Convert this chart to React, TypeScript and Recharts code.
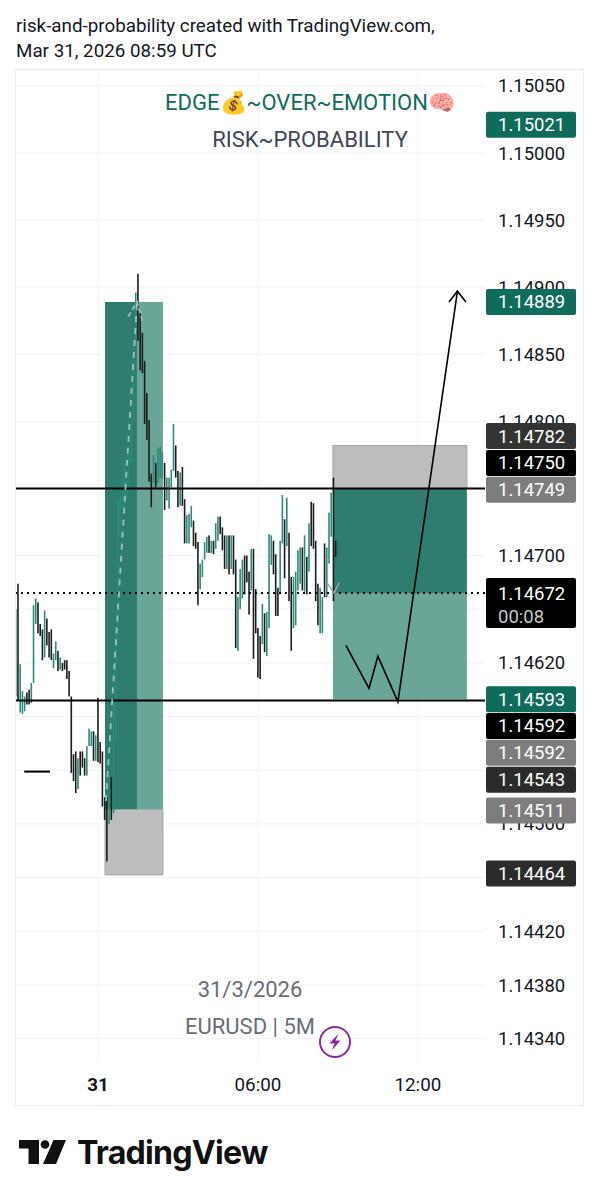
import { Bar, CartesianGrid, ComposedChart, Line, ReferenceArea, ReferenceDot, ReferenceLine, XAxis, YAxis } from "recharts";

const FONT = "Roboto, sans-serif";
const GREEN = "#0f6b5b";
const TEAL = "#2b8a7a";
const BLACK = "#1c1c1c";

// 5 minute bars, minutes from 31 Mar 00:00
const barTimes = [
  -185, -180, -175, -170, -165, -160, -155, -150, -145, -140, -135, -130, -125, -120, -115, -110, -105, -100, -95, -90, -85, -80, -75, -70,
  -65, -60, -55, -50, -45, -40, -35, -30, -25, -20, -15, -10, -5, 0, 5, 10, 15, 20, 25, 30, 35, 40, 45, 50, 55, 60, 65, 70, 75, 80, 85, 90,
  95, 100, 105, 110, 115, 120, 125, 130, 135, 140, 145, 150, 155, 160, 165, 170, 175, 180, 185, 190, 195, 200, 205, 210, 215, 220, 225, 230,
  235, 240, 245, 250, 255, 260, 265, 270, 275, 280, 285, 290, 295, 300, 305, 310, 315, 320, 325, 330, 335, 340, 345, 350, 355, 360, 365, 370,
  375, 380, 385, 390, 395, 400, 405, 410, 415, 420, 425, 430, 435, 440, 445, 450, 455, 460, 465, 470, 475, 480, 485, 490, 495, 500, 505, 510,
  515, 520, 525, 530, 535,
];
const barHighs = [
  1.1466, 1.14679, 1.14619, 1.14599, 1.14595, 1.14598, 1.146, 1.14605, 1.14663, 1.14668, 1.14665, 1.14649, 1.14645, 1.14659, 1.14653, 1.14643, 1.14645, 1.14627, 1.14636, 1.14629, 1.14624, 1.1462, 1.14622, 1.14622,
  1.14614, 1.14595, 1.14552, 1.14554, 1.14549, 1.14554, 1.14554, 1.14549, 1.14558, 1.14571, 1.14569, 1.14569, 1.14566, 1.14594, 1.14561, 1.14554, 1.1452, 1.1452, 1.14537, 1.14535, 1.14592, 1.14644, 1.14743, 1.14745, 1.14763, 1.14769, 1.14758, 1.14776, 1.14801, 1.1486, 1.14896, 1.1491,
  1.14881, 1.14866, 1.14845, 1.14821, 1.14801, 1.14761, 1.14775, 1.14769, 1.1478, 1.14781, 1.14777, 1.14769, 1.14758, 1.14758, 1.14764, 1.14798, 1.14782, 1.14763, 1.14762, 1.14766, 1.14742, 1.1473, 1.14731, 1.14737, 1.14726, 1.14717, 1.1471, 1.14694,
  1.14697, 1.1471, 1.14714, 1.14715, 1.14711, 1.14711, 1.14724, 1.14729, 1.14729, 1.14721, 1.14715, 1.14715, 1.14715, 1.14715, 1.14715, 1.14697, 1.14669, 1.1469, 1.14697, 1.147, 1.147, 1.14688, 1.14705, 1.14705, 1.14675, 1.14646, 1.1464, 1.14664,
  1.14657, 1.14658, 1.14716, 1.14715, 1.14711, 1.14701, 1.14676, 1.14711, 1.14745, 1.14727, 1.14743, 1.14717, 1.14684, 1.14684, 1.14688, 1.14704, 1.14706, 1.14706, 1.14715, 1.14699, 1.14724, 1.1474, 1.14739, 1.14711, 1.14679, 1.14676, 1.14669, 1.14709,
  1.14706, 1.14732, 1.14747, 1.14758, 1.14711,
];
const barLows = [
  1.14595, 1.14592, 1.14583, 1.14582, 1.14584, 1.14589, 1.14589, 1.1459, 1.14605, 1.14649, 1.14642, 1.1464, 1.14622, 1.14624, 1.14633, 1.14624, 1.14622, 1.14616, 1.14622, 1.14614, 1.14615, 1.14614, 1.14615, 1.14608,
  1.14595, 1.14538, 1.14532, 1.14523, 1.14526, 1.14536, 1.14542, 1.14536, 1.14536, 1.14558, 1.14558, 1.14547, 1.14547, 1.14546, 1.14545, 1.14513, 1.14503, 1.14472, 1.145, 1.14503, 1.14508, 1.14562, 1.14634, 1.14713, 1.14734, 1.14734, 1.14741, 1.14748, 1.14769, 1.14801, 1.1486, 1.1486,
  1.14838, 1.14836, 1.14798, 1.14786, 1.14755, 1.14736, 1.14754, 1.14751, 1.14754, 1.14758, 1.14757, 1.14734, 1.14741, 1.14735, 1.14751, 1.14763, 1.14758, 1.14736, 1.14737, 1.14737, 1.14709, 1.14709, 1.14709, 1.14721, 1.14707, 1.14705, 1.14663, 1.14675,
  1.14684, 1.14697, 1.14702, 1.14702, 1.14702, 1.14701, 1.14705, 1.14711, 1.14716, 1.14704, 1.1469, 1.1469, 1.14686, 1.1469, 1.14686, 1.14631, 1.14629, 1.1466, 1.14668, 1.14671, 1.1468, 1.14656, 1.14674, 1.14623, 1.14642, 1.14609, 1.14608, 1.14634,
  1.14628, 1.14625, 1.14646, 1.14693, 1.14686, 1.14655, 1.14655, 1.14671, 1.14709, 1.14683, 1.14707, 1.14666, 1.14629, 1.14646, 1.14648, 1.14674, 1.14679, 1.14674, 1.14673, 1.14671, 1.14688, 1.14707, 1.14705, 1.14666, 1.14648, 1.14642, 1.14642, 1.14669,
  1.14669, 1.14694, 1.14714, 1.14666, 1.14699,
];
const barColors = [
  "t", "b", "t", "t", "t", "b", "b", "t", "t", "t", "b", "b", "b", "t", "b", "b", "b", "t", "t", "b", "t", "b", "b", "b",
  "b", "b", "b", "b", "t", "b", "b", "b", "t", "t", "t", "b", "t", "b", "b", "b", "b", "b", "t", "b", "t", "t", "t", "t", "t", "t", "t", "t", "t", "t", "t", "b",
  "b", "b", "b", "b", "b", "b", "t", "b", "t", "t", "t", "b", "t", "t", "t", "t", "b", "b", "t", "b", "b", "t", "t", "t", "b", "b", "b", "t",
  "t", "t", "t", "b", "t", "b", "t", "t", "b", "b", "b", "t", "b", "t", "b", "b", "t", "t", "t", "b", "b", "b", "t", "b", "b", "b", "b", "t",
  "b", "t", "t", "t", "b", "b", "b", "t", "t", "b", "t", "b", "b", "t", "t", "t", "t", "b", "t", "b", "t", "b", "b", "b", "b", "t", "t", "b",
  "t", "t", "t", "b", "b",
];

const priceTicks = [
  1.1434, 1.1438, 1.1442, 1.1446, 1.145, 1.1454, 1.1458, 1.1462, 1.1466, 1.147, 1.1475, 1.148, 1.1485, 1.149, 1.1495, 1.15, 1.1505,
];
// these levels keep their grid line but the tags sit on their labels
const coveredTicks = [1.1446, 1.1454, 1.1458, 1.1466, 1.1475];
const timeTicks = [0, 360, 720];
const timeLabels = ["31", "06:00", "12:00"];

// hand drawn path and its arrow head
const pathTimes = [558, 610, 630, 675, 809];
const pathPrices = [1.14633, 1.14601, 1.14625, 1.14591, 1.14897];
const headTimes = [790, 809, 828];
const headPrices = [1.14889, 1.14897, 1.14889];

// dashed position path of the finished trade
const dashTimes = [18, 88];
const dashPrices = [1.14517, 1.14889];
const dashHeadTimes = [68, 88, 100];
const dashHeadPrices = [1.14878, 1.14889, 1.14875];
const liveHeadTimes = [515, 531, 543];
const liveHeadPrices = [1.1468, 1.14672, 1.1468];

const tagText = ["1.15021", "1.14889", "1.14782", "1.14750", "1.14749", "1.14593", "1.14592", "1.14592", "1.14543", "1.14511", "1.14464"];
const tagLevels = [1.15021, 1.14889, 1.14789, 1.14769, 1.14749, 1.14593, 1.14573, 1.14553, 1.14533, 1.1451, 1.14463];
const tagFills = [GREEN, GREEN, "#333333", "#000000", "#7d7d7d", GREEN, "#000000", "#7d7d7d", "#2b2b2b", "#7d7d7d", "#2b2b2b"];

const candles = barTimes.map((t, i) => ({ t, range: [barLows[i], barHighs[i]], color: barColors[i] === "t" ? TEAL : BLACK }));
const toPoints = (ts: number[], ps: number[]) => ts.map((t, i) => ({ t, price: ps[i] }));

function CandleBar({ x, y, width, height, payload }: any) {
  return <rect x={x + width / 2 - 0.8} y={y} width={1.6} height={Math.abs(height)} fill={payload.color} />;
}

function PriceTag({ cx, cy, text, fill }: any) {
  return (
    <g>
      <rect x={cx + 1} y={cy - 13} width={90} height={26} rx={2} fill={fill} />
      <text x={cx + 13} y={cy + 6.5} fontFamily={FONT} fontSize={18.5} fill="#ffffff">
        {text}
      </text>
    </g>
  );
}

function LastPriceTag({ cx, cy }: any) {
  return (
    <g>
      <rect x={cx + 1} y={cy - 15} width={90} height={50} rx={2} fill="#000000" />
      <text x={cx + 13} y={cy + 6.5} fontFamily={FONT} fontSize={18.5} fill="#ffffff">
        1.14672
      </text>
      <text x={cx + 13} y={cy + 29.5} fontFamily={FONT} fontSize={18.5} fill="#c8c8c8">
        00:08
      </text>
    </g>
  );
}

function TimeTick({ x, y, payload, index }: any) {
  return (
    <text x={x} y={y} dy={21} textAnchor="middle" fontFamily={FONT} fontSize={18.8} fontWeight={index === 0 ? 700 : 400} fill="#131722">
      {timeLabels[timeTicks.indexOf(payload.value)]}
    </text>
  );
}

const overlay = (x: number, y: number, size: number, color: string, text: string) => (
  <div style={{ position: "absolute", left: x - 200, top: y, width: 400, textAlign: "center", fontFamily: FONT, fontSize: size, lineHeight: "24px", color }}>
    {text}
  </div>
);

export default function App() {
  return (
    <div style={{ position: "absolute", left: 0, top: 0, width: 598, height: 1200, background: "#fff", overflow: "hidden" }}>
      <div style={{ position: "absolute", left: 16, top: 13.5, fontFamily: FONT, fontSize: 18.8, lineHeight: "25px", color: "#131722" }}>
        risk-and-probability created with TradingView.com,
        <br />
        Mar 31, 2026 08:59 UTC
      </div>
      <div style={{ position: "absolute", left: 15, top: 69, width: 567, height: 1035, border: "1px solid #eceef2" }} />
      <div style={{ position: "absolute", left: 0, top: 0 }}>
        <ComposedChart width={598} height={1200} data={candles} margin={{ top: 70, left: 16, right: 15, bottom: 95 }}>
          <CartesianGrid stroke="#f0f1f4" strokeWidth={1} horizontalValues={priceTicks} verticalValues={timeTicks} />
          <XAxis
            dataKey="t"
            type="number"
            domain={[-184.5, 871]}
            ticks={timeTicks}
            interval={0}
            height={43}
            axisLine={false}
            tickLine={false}
            tick={<TimeTick />}
            allowDataOverflow
          />
          <YAxis
            type="number"
            orientation="right"
            domain={[1.143226, 1.150618]}
            ticks={priceTicks}
            interval={0}
            width={98}
            axisLine={false}
            tickLine={false}
            tickMargin={7}
            tickFormatter={(v: number) => (coveredTicks.includes(v) ? "" : v.toFixed(5))}
            tick={{ fontFamily: FONT, fontSize: 18.5, fill: "#131722" }}
            allowDataOverflow
          />

          <ReferenceArea x1={15.75} x2={146.25} y1={1.14462} y2={1.14511} fill="#bdbdbd" fillOpacity={1} stroke="#a6a6a6" />
          <ReferenceArea x1={15.75} x2={87.75} y1={1.14511} y2={1.14889} fill="#2f7d6e" fillOpacity={1} />
          <ReferenceArea x1={87.75} x2={146.25} y1={1.14511} y2={1.14889} fill="#6aa698" fillOpacity={1} />
          <ReferenceArea x1={528.75} x2={830.25} y1={1.1475} y2={1.14782} fill="#bdbdbd" fillOpacity={1} stroke="#a6a6a6" />
          <ReferenceArea x1={528.75} x2={830.25} y1={1.14672} y2={1.1475} fill="#2f7d6e" fillOpacity={1} />
          <ReferenceArea x1={528.75} x2={830.25} y1={1.14593} y2={1.14672} fill="#6aa698" fillOpacity={1} />

          <ReferenceLine y={1.1475} stroke="#000" strokeWidth={2} />
          <ReferenceLine y={1.14592} stroke="#000" strokeWidth={2} />
          <ReferenceLine y={1.14672} stroke="#000" strokeWidth={2} strokeDasharray="2 4" />
          <ReferenceLine segment={[{ x: -166, y: 1.14539 }, { x: -108, y: 1.14539 }]} stroke="#000" strokeWidth={2} />

          <Bar dataKey="range" barSize={2} isAnimationActive={false} shape={<CandleBar />} />

          <Line data={toPoints(dashTimes, dashPrices)} dataKey="price" stroke="#9ec2b9" strokeWidth={1.8} strokeDasharray="6 6" dot={false} isAnimationActive={false} />
          <Line data={toPoints(dashHeadTimes, dashHeadPrices)} dataKey="price" stroke="#9ec2b9" strokeWidth={1.8} strokeDasharray="5 3" dot={false} isAnimationActive={false} />
          <Line data={toPoints(liveHeadTimes, liveHeadPrices)} dataKey="price" stroke="#9aa8a4" strokeWidth={1.5} dot={false} isAnimationActive={false} />
          <Line data={toPoints(pathTimes, pathPrices)} dataKey="price" stroke="#000" strokeWidth={1.6} dot={false} isAnimationActive={false} />
          <Line data={toPoints(headTimes, headPrices)} dataKey="price" stroke="#000" strokeWidth={1.6} dot={false} isAnimationActive={false} />

          {tagText.map((text, i) => (
            <ReferenceDot
              key={i}
              x={871}
              y={tagLevels[i]}
              ifOverflow="visible"
              zIndex={2000}
              shape={(p: any) => <PriceTag cx={p.cx} cy={p.cy} text={text} fill={tagFills[i]} />}
            />
          ))}
          <ReferenceDot x={871} y={1.14672} ifOverflow="visible" zIndex={2000} shape={(p: any) => <LastPriceTag cx={p.cx} cy={p.cy} />} />
        </ComposedChart>
      </div>

      {overlay(310, 91, 22, GREEN, "EDGE💰~OVER~EMOTION🧠")}
      {overlay(310, 128, 22, "#3f4554", "RISK~PROBABILITY")}
      {overlay(250, 978, 22, "#6a6d78", "31/3/2026")}
      {overlay(250, 1015, 22, "#6a6d78", "EURUSD | 5M")}

      <svg style={{ position: "absolute", left: 318, top: 1025 }} width={34} height={34} viewBox="0 0 34 34">
        <circle cx={17} cy={17} r={15} fill="#fff" stroke="#8e24aa" strokeWidth={2} />
        <path d="M20.5 8.5 L11.5 18.5 H16.5 L13.5 25.5 L22.5 15.5 H17.5 Z" fill="#8e24aa" />
      </svg>

      <svg style={{ position: "absolute", left: 18, top: 1138 }} width={50} height={30} viewBox="0 0 50 30">
        <path d="M1 2 H21 V26 H10.5 V10.5 H1 Z" fill="#111" />
        <circle cx={27} cy={6.5} r={4.3} fill="#111" />
        <path d="M35.5 2 H48 L38 26 H25 Z" fill="#111" />
      </svg>
      <div style={{ position: "absolute", left: 77, top: 1134, fontFamily: "Inter, sans-serif", fontWeight: 700, fontSize: 32.2, lineHeight: "38px", letterSpacing: -0.8, color: "#111" }}>
        TradingView
      </div>
    </div>
  );
}
